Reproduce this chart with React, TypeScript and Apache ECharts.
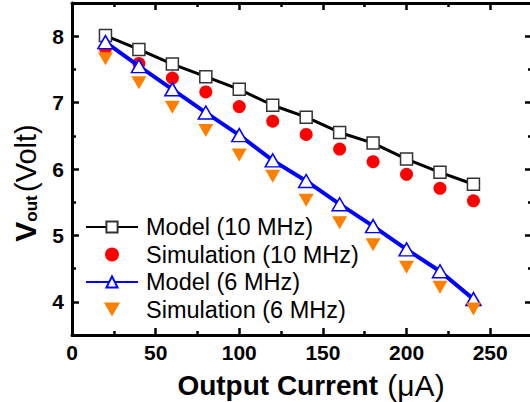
import React, { useEffect, useRef } from "react";
import * as echarts from "echarts";

const currents = [20, 40, 60, 80, 100, 120, 140, 160, 180, 200, 220, 240];
const model10 = [8.01, 7.8, 7.58, 7.39, 7.2, 6.96, 6.78, 6.55, 6.39, 6.15, 5.95, 5.77];
const sim10 = [7.82, 7.59, 7.37, 7.16, 6.94, 6.72, 6.52, 6.3, 6.11, 5.92, 5.71, 5.52];
const model6 = [7.91, 7.55, 7.2, 6.85, 6.51, 6.13, 5.82, 5.47, 5.14, 4.79, 4.46, 4.04];
const sim6 = [7.66, 7.3, 6.93, 6.58, 6.21, 5.89, 5.53, 5.19, 4.86, 4.52, 4.22, 3.89];

const seriesNames = ["Model (10 MHz)", "Simulation (10 MHz)", "Model (6 MHz)", "Simulation (6 MHz)"];
const xMajor = [0, 50, 100, 150, 200, 250];
const xMinor = [25, 75, 125, 175, 225, 275];
const yMajor = [4, 5, 6, 7, 8];
const yMinor = [4.5, 5.5, 6.5, 7.5];

const FONT = "'Liberation Sans', Arial, sans-serif";
const DOWN_TRIANGLE = "path://M0,0 L15,0 L7.5,13 Z";

const pairs = (ys: number[]) => currents.map((x, i) => [x, ys[i]]);

export default function App() {
  const ref = useRef<HTMLDivElement>(null);
  useEffect(() => {
    if (!ref.current) return;
    const chart = echarts.init(ref.current, undefined, { renderer: "svg" });
    const axisLine = { show: true, onZero: false, lineStyle: { color: "#000", width: 3 } };
    const majorTick = (vals: number[]) => ({
      show: true,
      inside: true,
      length: 7,
      customValues: vals,
      lineStyle: { color: "#000", width: 2.5 },
    });
    const minorTick = (vals: number[]) => ({
      show: true,
      inside: true,
      length: 4,
      customValues: vals,
      lineStyle: { color: "#000", width: 2.5 },
    });
    const hiddenLine = { show: false, onZero: false };
    const xBase = { type: "value", min: 0, max: 275, splitLine: { show: false } };
    const yBase = { type: "value", min: 3.5, max: 8.5, splitLine: { show: false } };
    const option: any = {
      animation: false,
      backgroundColor: "#fff",
      grid: { left: 72, right: -2, top: 3, bottom: 67, containLabel: false, outerBoundsMode: "none" },
      legend: {
        data: [
          { name: seriesNames[0] },
          { name: seriesNames[1] },
          { name: seriesNames[2] },
          { name: seriesNames[3], icon: DOWN_TRIANGLE },
        ],
        orient: "vertical",
        left: 80,
        top: 210,
        itemWidth: 52,
        itemHeight: 14,
        itemGap: 3.5,
        textStyle: {
          fontSize: 23.5,
          lineHeight: 24,
          color: "#000",
          fontFamily: FONT,
          padding: [0, 0, 0, 3],
        },
      },
      xAxis: [
        {
          ...xBase,
          position: "bottom",
          axisLine,
          axisTick: majorTick(xMajor.slice(1)),
          axisLabel: {
            customValues: xMajor,
            fontSize: 21,
            fontWeight: "bold",
            color: "#000",
            fontFamily: FONT,
            margin: 7,
          },
          name: "{b|Output Current} {n|(μA)}",
          nameLocation: "middle",
          nameGap: 35,
          nameTextStyle: {
            padding: [0, 0, 0, 18],
            rich: {
              b: { fontSize: 28, fontWeight: "bold", color: "#000", fontFamily: FONT, lineHeight: 30 },
              n: { fontSize: 30, color: "#000", fontFamily: FONT, padding: [0, 0, 0, 6], lineHeight: 30 },
            },
          },
        },
        { ...xBase, position: "bottom", axisLine: hiddenLine, axisTick: minorTick(xMinor), axisLabel: { show: false } },
        { ...xBase, position: "top", axisLine, axisTick: majorTick(xMajor.slice(1)), axisLabel: { show: false } },
        { ...xBase, position: "top", axisLine: hiddenLine, axisTick: minorTick(xMinor), axisLabel: { show: false } },
      ],
      yAxis: [
        {
          ...yBase,
          position: "left",
          axisLine,
          axisTick: majorTick(yMajor),
          axisLabel: {
            customValues: yMajor,
            fontSize: 21,
            fontWeight: "bold",
            color: "#000",
            fontFamily: FONT,
            margin: 8,
          },
          name: "{v|V}{s|out} {n|(Volt)}",
          nameLocation: "middle",
          nameRotate: 90,
          nameGap: 32,
          nameTextStyle: {
            padding: [0, 28, 0, 0],
            rich: {
              v: { fontSize: 30, fontWeight: "bold", color: "#000", fontFamily: FONT, verticalAlign: "bottom" },
              s: { fontSize: 17, fontWeight: "bold", color: "#000", fontFamily: FONT, verticalAlign: "bottom" },
              n: { fontSize: 29, color: "#000", fontFamily: FONT, verticalAlign: "bottom" },
            },
          },
        },
        { ...yBase, position: "left", axisLine: hiddenLine, axisTick: minorTick(yMinor), axisLabel: { show: false } },
        { ...yBase, position: "right", axisLine, axisTick: majorTick(yMajor), axisLabel: { show: false } },
        { ...yBase, position: "right", axisLine: hiddenLine, axisTick: minorTick(yMinor), axisLabel: { show: false } },
      ],
      series: [
        {
          name: seriesNames[0],
          type: "line",
          data: pairs(model10),
          symbol: "rect",
          symbolSize: 12,
          lineStyle: { color: "#000", width: 3 },
          itemStyle: { color: "#fff", borderColor: "#333", borderWidth: 1.5 },
          z: 2,
        },
        {
          name: seriesNames[1],
          type: "scatter",
          data: pairs(sim10),
          symbol: "circle",
          symbolSize: 13,
          itemStyle: { color: "#ff0000", opacity: 1 },
          z: 3,
        },
        {
          name: seriesNames[2],
          type: "line",
          data: pairs(model6),
          symbol: "triangle",
          symbolSize: [15, 13],
          lineStyle: { color: "#0000ff", width: 4 },
          itemStyle: { color: "#fff", borderColor: "#0000ff", borderWidth: 1.5 },
          z: 4,
        },
        {
          name: seriesNames[3],
          type: "scatter",
          data: pairs(sim6),
          symbol: "triangle",
          symbolRotate: 180,
          symbolSize: [15, 13],
          itemStyle: { color: "#ff8000", opacity: 1 },
          z: 5,
        },
      ],
    };
    chart.setOption(option);
    return () => chart.dispose();
  }, []);
  return (
    <div
      ref={ref}
      style={{ position: "absolute", left: 0, top: 0, width: 530, height: 402, background: "#fff" }}
    />
  );
}
